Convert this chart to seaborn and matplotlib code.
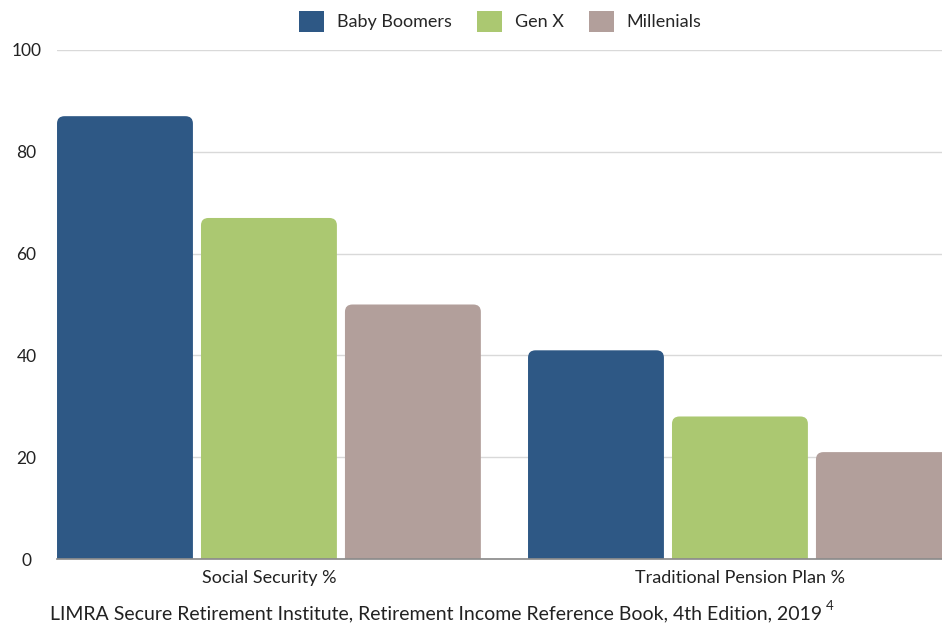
import pandas as pd
import matplotlib.pyplot as plt
import seaborn as sns
from matplotlib.patches import FancyBboxPatch, Patch

# data
categories = ['Social Security %', 'Traditional Pension Plan %']
generations = ['Baby Boomers', 'Gen X', 'Millenials']
baby_boomers = [87, 41]
gen_x = [67, 28]
millenials = [50, 21]
colors = ['#2e5885', '#abc871', '#b29f9b']

df = pd.DataFrame({
    'category': categories * 3,
    'generation': [g for g in generations for _ in categories],
    'value': baby_boomers + gen_x + millenials,
})

sns.set_theme(style='white')
plt.rcParams['font.family'] = ['Lato', 'DejaVu Sans']

fig = plt.figure(figsize=(9.42, 6.25), dpi=100)
ax = fig.add_axes([0.0605, 0.1056, 0.9395, 0.8144])

sns.barplot(data=df, x='category', y='value', hue='generation',
            hue_order=generations, palette=colors, width=0.917, gap=0.056,
            saturation=1, legend=False, ax=ax)

ax.set_xlim(-0.45, 1.429)
ax.set_ylim(0, 100)

# swap plain bars for ones with rounded tops (bottom corners hidden under y=0)
r = 0.016
aspect = 90
for p in list(ax.patches):
    x, y = p.get_x(), p.get_y()
    w, h = p.get_width(), p.get_height()
    fc = p.get_facecolor()
    p.remove()
    ax.add_patch(FancyBboxPatch((x, y - 3), w, h + 3,
                                boxstyle=f'round,pad=0,rounding_size={r}',
                                mutation_aspect=aspect, fc=fc, ec='none',
                                zorder=2))

ax.set_yticks([0, 20, 40, 60, 80, 100])
ax.yaxis.grid(True, color='#d9d9d9', linewidth=1)
ax.set_axisbelow(True)
for s in ['left', 'right', 'top']:
    ax.spines[s].set_visible(False)
ax.spines['bottom'].set_color('#8c8c8c')
ax.spines['bottom'].set_zorder(3)
ax.tick_params(axis='y', length=0, labelsize=12.5, labelcolor='#222222')
ax.tick_params(axis='x', length=0, pad=8, labelsize=13, labelcolor='#222222')
for t in ax.get_yticklabels():
    t.set_horizontalalignment('center')
ax.yaxis.set_tick_params(pad=22)
ax.set_xlabel('')
ax.set_ylabel('')

handles = [Patch(facecolor=c, edgecolor='none') for c in colors]
fig.legend(handles, generations, loc='center', bbox_to_anchor=(0.531, 0.966),
           ncol=3, frameon=False, fontsize=13, handlelength=1.4,
           handleheight=1.4, columnspacing=1.4, handletextpad=0.7)

src = fig.text(0.053, 0.009, 'LIMRA Secure Retirement Institute, Retirement Income Reference Book, 4th Edition, 2019',
               fontsize=14, va='baseline', color='#222222')
fig.canvas.draw()
bb = src.get_window_extent()
fig.text(bb.x1 / fig.bbox.width + 0.004, 0.024, '4', fontsize=9.5,
         va='baseline', color='#222222')

fig.savefig('out.png', dpi=100)
